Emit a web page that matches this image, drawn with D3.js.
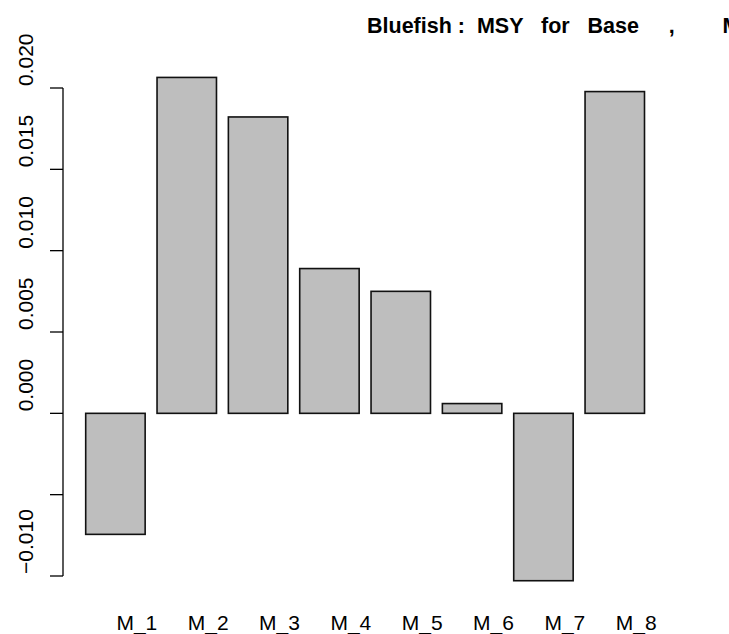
<!DOCTYPE html>
<html>
<head>
<meta charset="utf-8">
<script src="https://cdn.jsdelivr.net/npm/d3@7"></script>
<style>
  body { margin: 0; background: #fff; }
  svg { display: block; font-family: "Liberation Sans", Arial, sans-serif; }
</style>
</head>
<body>
<div id="chart"></div>
<script>
// Data
var categories = ["M_1", "M_2", "M_3", "M_4", "M_5", "M_6", "M_7", "M_8"];
var values = [-0.00744, 0.02065, 0.01822, 0.00890, 0.00750, 0.00060, -0.01029, 0.01978];
var yTicks = [-0.010, -0.005, 0.000, 0.005, 0.010, 0.015, 0.020];
// R drops the -0.005 label because it would overlap its neighbours
var yLabels = [-0.010, 0.000, 0.005, 0.010, 0.015, 0.020];
var title = "Bluefish :  MSY   for   Base     ,        M_1 to M_8";

var svgWidth = 729, svgHeight = 634;

var svg = d3.select("#chart")
    .append("svg")
        .attr("width", svgWidth)
        .attr("height", svgHeight);

// Scales
var x = d3.scaleBand()
    .domain(categories)
    .range([85.7, 644.5])
    .paddingInner(1 / 6)
    .paddingOuter(0);

var y = d3.scaleLinear()
    .domain([-0.010, 0.020])
    .range([576, 88]);

var fmt = d3.format(".3f");

// Bars
svg.append("g")
    .selectAll("rect")
    .data(values)
    .join("rect")
        .attr("x", (d, i) => x(categories[i]))
        .attr("width", x.bandwidth())
        .attr("y", d => y(Math.max(0, d)))
        .attr("height", d => Math.abs(y(d) - y(0)))
        .attr("fill", "#bebebe")
        .attr("stroke", "#111")
        .attr("stroke-width", 1.6);

// Y axis (R style: ticks to the left, rotated labels)
var axisX = 63;
var yAxis = svg.append("g");
yAxis.append("line")
    .attr("x1", axisX).attr("x2", axisX)
    .attr("y1", y(yTicks[0])).attr("y2", y(yTicks[yTicks.length - 1]))
    .attr("stroke", "#000").attr("stroke-width", 1.3);
yAxis.selectAll("line.tick")
    .data(yTicks)
    .join("line")
        .attr("class", "tick")
        .attr("x1", axisX - 13).attr("x2", axisX)
        .attr("y1", d => y(d)).attr("y2", d => y(d))
        .attr("stroke", "#000").attr("stroke-width", 1.3);
yAxis.selectAll("text")
    .data(yLabels)
    .join("text")
        .attr("transform", d => "translate(33," + (y(d) - 2) + ") rotate(-90)")
        .attr("text-anchor", "start")
        .style("font-size", "21px")
        .text(d => fmt(d));

// Category labels
svg.append("g")
    .selectAll("text")
    .data(categories)
    .join("text")
        .attr("x", d => x(d) + x.bandwidth() / 2 + 1)
        .attr("y", 630)
        .attr("text-anchor", "start")
        .style("font-size", "21px")
        .text(d => d);

// Title (runs off the right edge like the original)
svg.append("text")
    .attr("x", 367)
    .attr("y", 33)
    .attr("text-anchor", "start")
    .style("font-size", "21.5px")
    .style("font-weight", "bold")
    .style("white-space", "pre")
    .attr("xml:space", "preserve")
    .text(title);
</script>
</body>
</html>
